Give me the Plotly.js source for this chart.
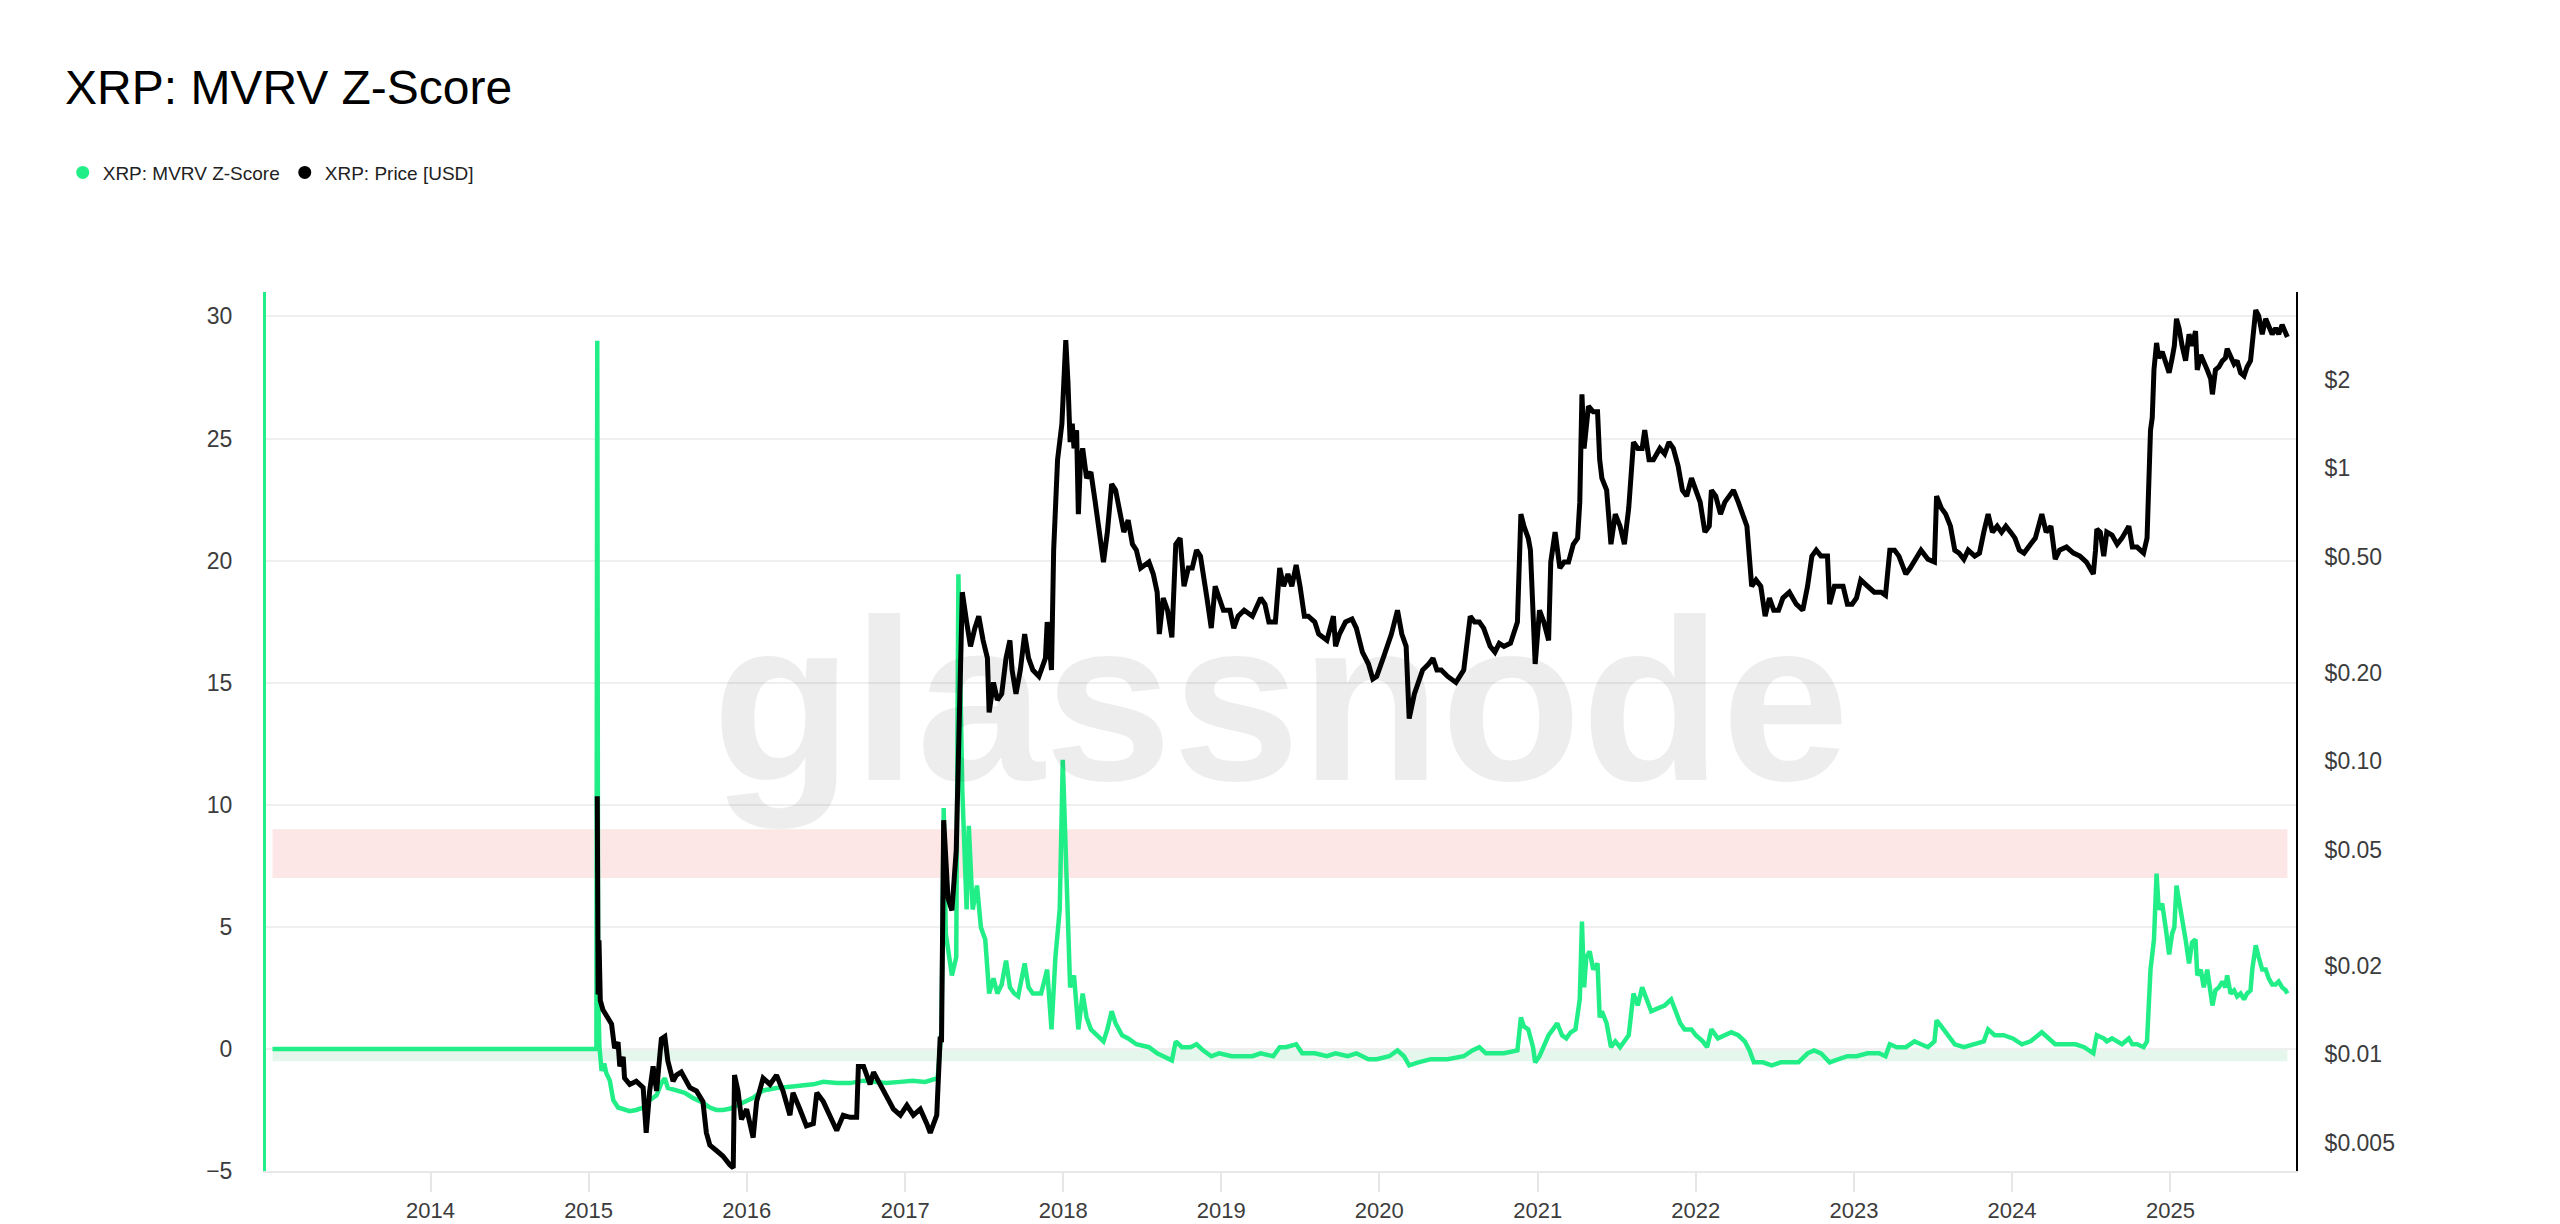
<!DOCTYPE html>
<html>
<head>
<meta charset="utf-8">
<script src="https://cdn.plot.ly/plotly-3.0.1.min.js"></script>
<style>
  html, body { margin: 0; padding: 0; background: #ffffff; }
  #chart { width: 2560px; height: 1224px; }
</style>
</head>
<body>
<div id="chart"></div>
<script>
// ---------- DATA ----------
// Dates are stored as decimal years.
const zYear = [
  2013.000, 2015.051, 2015.057, 2015.062, 2015.070, 2015.083, 2015.100, 2015.114, 2015.135, 2015.157,
  2015.188, 2015.230, 2015.262, 2015.304, 2015.346, 2015.389, 2015.431, 2015.462, 2015.483, 2015.504,
  2015.557, 2015.610, 2015.660, 2015.726, 2015.768, 2015.810, 2015.852, 2015.894, 2015.947, 2016.000,
  2016.042, 2016.105, 2016.190, 2016.274, 2016.337, 2016.422, 2016.485, 2016.569, 2016.654, 2016.738,
  2016.801, 2016.885, 2016.970, 2017.049, 2017.127, 2017.206, 2017.232, 2017.245, 2017.258, 2017.272,
  2017.298, 2017.324, 2017.337, 2017.350, 2017.363, 2017.390, 2017.403, 2017.429, 2017.455, 2017.481,
  2017.508, 2017.534, 2017.560, 2017.586, 2017.613, 2017.639, 2017.665, 2017.691, 2017.717, 2017.757,
  2017.783, 2017.809, 2017.862, 2017.901, 2017.927, 2017.953, 2017.980, 2017.998, 2018.014, 2018.032,
  2018.045, 2018.071, 2018.098, 2018.124, 2018.150, 2018.176, 2018.216, 2018.255, 2018.281, 2018.308,
  2018.334, 2018.373, 2018.412, 2018.465, 2018.544, 2018.596, 2018.635, 2018.688, 2018.714, 2018.753,
  2018.806, 2018.845, 2018.885, 2018.937, 2018.989, 2019.068, 2019.199, 2019.252, 2019.330, 2019.370,
  2019.409, 2019.475, 2019.514, 2019.593, 2019.671, 2019.724, 2019.802, 2019.855, 2019.934, 2019.986,
  2020.065, 2020.117, 2020.156, 2020.191, 2020.248, 2020.327, 2020.432, 2020.533, 2020.589, 2020.632,
  2020.674, 2020.730, 2020.787, 2020.872, 2020.894, 2020.914, 2020.942, 2020.970, 2020.985, 2021.013,
  2021.041, 2021.069, 2021.098, 2021.126, 2021.154, 2021.182, 2021.210, 2021.239, 2021.267, 2021.281,
  2021.295, 2021.309, 2021.329, 2021.352, 2021.380, 2021.394, 2021.408, 2021.436, 2021.465, 2021.493,
  2021.521, 2021.549, 2021.578, 2021.606, 2021.634, 2021.662, 2021.691, 2021.719, 2021.761, 2021.804,
  2021.846, 2021.874, 2021.902, 2021.931, 2021.973, 2022.001, 2022.044, 2022.072, 2022.100, 2022.142,
  2022.185, 2022.227, 2022.270, 2022.312, 2022.340, 2022.368, 2022.425, 2022.481, 2022.538, 2022.594,
  2022.651, 2022.707, 2022.750, 2022.792, 2022.849, 2022.905, 2022.961, 2023.018, 2023.089, 2023.159,
  2023.202, 2023.230, 2023.272, 2023.329, 2023.385, 2023.427, 2023.470, 2023.512, 2023.526, 2023.555,
  2023.597, 2023.639, 2023.696, 2023.752, 2023.823, 2023.851, 2023.893, 2023.950, 2024.006, 2024.063,
  2024.119, 2024.190, 2024.232, 2024.275, 2024.345, 2024.402, 2024.458, 2024.515, 2024.528, 2024.538,
  2024.580, 2024.601, 2024.633, 2024.665, 2024.696, 2024.739, 2024.760, 2024.791, 2024.833, 2024.854,
  2024.865, 2024.876, 2024.897, 2024.914, 2024.928, 2024.949, 2024.970, 2024.992, 2025.013, 2025.027,
  2025.040, 2025.055, 2025.076, 2025.097, 2025.118, 2025.139, 2025.160, 2025.171, 2025.192, 2025.213,
  2025.234, 2025.255, 2025.266, 2025.287, 2025.308, 2025.329, 2025.350, 2025.360, 2025.382, 2025.403,
  2025.424, 2025.445, 2025.466, 2025.487, 2025.508, 2025.519, 2025.540, 2025.561, 2025.582, 2025.603,
  2025.624, 2025.645, 2025.666, 2025.687, 2025.708, 2025.729, 2025.740
];
const zValue = [
  0, 0, 29.0, 2.3, 0.1, -0.9, -0.6, -1.0, -1.3, -2.1,
  -2.4, -2.5, -2.55, -2.5, -2.4, -2.1, -1.9, -1.4, -1.2, -1.6,
  -1.7, -1.8, -2.0, -2.2, -2.4, -2.5, -2.5, -2.45, -2.3, -2.1,
  -2.0, -1.7, -1.6, -1.55, -1.5, -1.45, -1.35, -1.4, -1.4, -1.3,
  -1.35, -1.4, -1.35, -1.3, -1.35, -1.2, 0.80, 9.87, 4.7, 3.99,
  3.01, 3.75, 19.44, 15.5, 10.61, 5.71, 9.14, 5.71, 6.69, 4.97,
  4.48, 2.27, 2.89, 2.27, 2.64, 3.62, 2.52, 2.27, 2.15, 3.50,
  2.52, 2.27, 2.27, 3.25, 0.80, 3.75, 5.71, 11.84, 8.16, 5.71,
  2.52, 3.01, 0.80, 2.27, 1.29, 0.80, 0.56, 0.31, 0.80, 1.54,
  1.05, 0.56, 0.43, 0.19, 0.07, -0.18, -0.30, -0.47, 0.31, 0.07,
  0.07, 0.19, -0.06, -0.30, -0.18, -0.30, -0.30, -0.18, -0.30, 0.07,
  0.07, 0.19, -0.18, -0.18, -0.30, -0.18, -0.30, -0.18, -0.42, -0.42,
  -0.30, -0.06, -0.30, -0.67, -0.55, -0.42, -0.42, -0.30, -0.06, 0.07,
  -0.18, -0.18, -0.18, -0.06, 1.29, 0.92, 0.80, 0.07, -0.55, -0.30,
  0.07, 0.56, 0.80, 1.05, 0.56, 0.43, 0.68, 0.80, 2.03, 5.22,
  2.52, 3.75, 3.99, 3.25, 3.50, 1.29, 1.54, 1.05, 0.07, 0.31,
  0.07, 0.31, 0.56, 2.27, 1.78, 2.52, 2.03, 1.54, 1.66, 1.78,
  2.03, 1.54, 1.05, 0.80, 0.80, 0.56, 0.31, 0.07, 0.80, 0.43,
  0.56, 0.68, 0.56, 0.31, -0.06, -0.55, -0.55, -0.67, -0.55, -0.55,
  -0.55, -0.18, -0.06, -0.18, -0.55, -0.42, -0.30, -0.30, -0.18, -0.18,
  -0.30, 0.19, 0.07, 0.07, 0.31, 0.19, 0.07, 0.31, 1.17, 0.92,
  0.56, 0.19, 0.07, 0.19, 0.31, 0.80, 0.56, 0.56, 0.43, 0.19,
  0.31, 0.68, 0.43, 0.19, 0.19, 0.19, 0.07, -0.18, 0.31, 0.56,
  0.43, 0.31, 0.43, 0.31, 0.19, 0.43, 0.19, 0.19, 0.07, 0.31,
  2.03, 3.25, 4.48, 7.18, 5.71, 5.95, 4.97, 3.87, 4.73, 4.97,
  6.69, 6.07, 5.46, 4.48, 3.50, 4.36, 4.48, 3.01, 3.25, 2.52,
  3.25, 2.27, 1.78, 2.40, 2.52, 2.76, 2.52, 3.01, 2.27, 2.40,
  2.15, 2.27, 2.03, 2.27, 2.40, 3.25, 4.24, 3.75, 3.25, 3.25,
  2.89, 2.64, 2.64, 2.76, 2.52, 2.40, 2.27
];

const pYear = [
  2015.057, 2015.062, 2015.068, 2015.075, 2015.093, 2015.146, 2015.167, 2015.188, 2015.199, 2015.220,
  2015.230, 2015.262, 2015.304, 2015.346, 2015.367, 2015.389, 2015.410, 2015.431, 2015.462, 2015.483,
  2015.504, 2015.536, 2015.557, 2015.589, 2015.610, 2015.642, 2015.684, 2015.726, 2015.747, 2015.768,
  2015.810, 2015.852, 2015.894, 2015.916, 2015.926, 2015.947, 2015.968, 2016.000, 2016.042, 2016.063,
  2016.105, 2016.148, 2016.190, 2016.232, 2016.274, 2016.295, 2016.337, 2016.379, 2016.422, 2016.443,
  2016.485, 2016.527, 2016.569, 2016.611, 2016.654, 2016.696, 2016.706, 2016.738, 2016.780, 2016.801,
  2016.843, 2016.885, 2016.928, 2016.970, 2017.012, 2017.054, 2017.096, 2017.138, 2017.160, 2017.202,
  2017.223, 2017.232, 2017.245, 2017.272, 2017.298, 2017.324, 2017.350, 2017.363, 2017.390, 2017.416,
  2017.442, 2017.468, 2017.495, 2017.521, 2017.534, 2017.560, 2017.586, 2017.613, 2017.639, 2017.665,
  2017.678, 2017.704, 2017.731, 2017.757, 2017.783, 2017.809, 2017.849, 2017.888, 2017.901, 2017.927,
  2017.940, 2017.953, 2017.967, 2017.993, 2018.006, 2018.019, 2018.032, 2018.045, 2018.058, 2018.071,
  2018.085, 2018.098, 2018.111, 2018.124, 2018.150, 2018.176, 2018.203, 2018.229, 2018.255, 2018.281,
  2018.308, 2018.334, 2018.360, 2018.386, 2018.412, 2018.439, 2018.465, 2018.491, 2018.544, 2018.570,
  2018.596, 2018.609, 2018.635, 2018.662, 2018.688, 2018.714, 2018.740, 2018.766, 2018.793, 2018.819,
  2018.845, 2018.871, 2018.911, 2018.937, 2018.963, 2018.989, 2019.016, 2019.055, 2019.081, 2019.107,
  2019.147, 2019.199, 2019.252, 2019.278, 2019.304, 2019.343, 2019.370, 2019.396, 2019.422, 2019.448,
  2019.475, 2019.501, 2019.527, 2019.553, 2019.593, 2019.619, 2019.671, 2019.711, 2019.724, 2019.750,
  2019.789, 2019.829, 2019.855, 2019.894, 2019.934, 2019.960, 2019.986, 2020.025, 2020.052, 2020.078,
  2020.117, 2020.143, 2020.170, 2020.191, 2020.222, 2020.248, 2020.274, 2020.314, 2020.340, 2020.366,
  2020.392, 2020.432, 2020.484, 2020.533, 2020.575, 2020.603, 2020.632, 2020.660, 2020.702, 2020.730,
  2020.759, 2020.787, 2020.829, 2020.872, 2020.894, 2020.914, 2020.942, 2020.956, 2020.970, 2020.985,
  2021.013, 2021.041, 2021.069, 2021.083, 2021.112, 2021.140, 2021.168, 2021.196, 2021.225, 2021.253,
  2021.267, 2021.281, 2021.295, 2021.309, 2021.323, 2021.352, 2021.380, 2021.394, 2021.408, 2021.436,
  2021.465, 2021.493, 2021.521, 2021.549, 2021.578, 2021.606, 2021.634, 2021.662, 2021.677, 2021.705,
  2021.733, 2021.775, 2021.804, 2021.832, 2021.860, 2021.888, 2021.917, 2021.945, 2021.973, 2022.001,
  2022.030, 2022.058, 2022.086, 2022.100, 2022.128, 2022.157, 2022.185, 2022.213, 2022.241, 2022.270,
  2022.298, 2022.326, 2022.354, 2022.383, 2022.411, 2022.439, 2022.467, 2022.495, 2022.524, 2022.552,
  2022.594, 2022.637, 2022.679, 2022.707, 2022.736, 2022.764, 2022.792, 2022.834, 2022.849, 2022.877,
  2022.905, 2022.933, 2022.961, 2022.990, 2023.018, 2023.046, 2023.089, 2023.131, 2023.173, 2023.202,
  2023.230, 2023.258, 2023.286, 2023.329, 2023.357, 2023.399, 2023.427, 2023.470, 2023.512, 2023.526,
  2023.555, 2023.583, 2023.611, 2023.639, 2023.667, 2023.696, 2023.724, 2023.766, 2023.795, 2023.823,
  2023.851, 2023.879, 2023.908, 2023.936, 2023.964, 2023.992, 2024.020, 2024.049, 2024.077, 2024.119,
  2024.148, 2024.190, 2024.218, 2024.246, 2024.275, 2024.303, 2024.345, 2024.388, 2024.430, 2024.472,
  2024.515, 2024.528, 2024.538, 2024.559, 2024.580, 2024.601, 2024.633, 2024.665, 2024.696, 2024.739,
  2024.760, 2024.791, 2024.833, 2024.854, 2024.865, 2024.876, 2024.886, 2024.897, 2024.914, 2024.928,
  2024.949, 2024.970, 2024.992, 2025.013, 2025.027, 2025.040, 2025.055, 2025.076, 2025.097, 2025.118,
  2025.139, 2025.160, 2025.171, 2025.192, 2025.213, 2025.234, 2025.255, 2025.266, 2025.287, 2025.308,
  2025.329, 2025.350, 2025.360, 2025.382, 2025.403, 2025.424, 2025.445, 2025.466, 2025.487, 2025.508,
  2025.519, 2025.540, 2025.561, 2025.582, 2025.603, 2025.624, 2025.645, 2025.666, 2025.687, 2025.708,
  2025.729, 2025.740
];
const pValue = [
  0.076, 0.0160, 0.0245, 0.0153, 0.0142, 0.0127, 0.0105, 0.0110, 0.0091, 0.0098,
  0.0083, 0.0079, 0.0081, 0.0077, 0.0054, 0.0075, 0.0091, 0.0075, 0.0113, 0.0115,
  0.0095, 0.0081, 0.0085, 0.0087, 0.0083, 0.0077, 0.0075, 0.0069, 0.0054, 0.0049,
  0.0047, 0.0045, 0.0042, 0.0041, 0.0085, 0.0075, 0.0060, 0.0065, 0.0052, 0.0069,
  0.0083, 0.0079, 0.0085, 0.0075, 0.0062, 0.0074, 0.0065, 0.0057, 0.0058, 0.0074,
  0.0069, 0.0062, 0.0055, 0.0062, 0.0061, 0.0061, 0.0091, 0.0091, 0.0079, 0.0087,
  0.0079, 0.0072, 0.0065, 0.0062, 0.0067, 0.0062, 0.0065, 0.0058, 0.0054, 0.0062,
  0.0115, 0.0110, 0.0630, 0.0341, 0.0310, 0.0497, 0.205, 0.378, 0.299, 0.247,
  0.285, 0.313, 0.259, 0.225, 0.147, 0.186, 0.162, 0.170, 0.225, 0.259,
  0.205, 0.170, 0.205, 0.272, 0.225, 0.205, 0.195, 0.225, 0.299, 0.205,
  0.526, 0.767, 1.07, 1.42, 2.38, 2.74, 1.97, 1.23, 1.42, 1.17,
  1.35, 0.698, 1.07, 1.17, 0.927, 0.972, 0.767, 0.606, 0.479, 0.606,
  0.884, 0.843, 0.698, 0.606, 0.666, 0.551, 0.526, 0.457, 0.479, 0.436,
  0.378, 0.272, 0.361, 0.328, 0.265, 0.551, 0.578, 0.396, 0.457, 0.457,
  0.526, 0.502, 0.361, 0.285, 0.396, 0.361, 0.328, 0.328, 0.285, 0.313,
  0.328, 0.313, 0.361, 0.344, 0.299, 0.299, 0.457, 0.396, 0.436, 0.396,
  0.468, 0.396, 0.313, 0.313, 0.299, 0.272, 0.259, 0.313, 0.247, 0.272,
  0.299, 0.306, 0.285, 0.236, 0.215, 0.191, 0.195, 0.225, 0.247, 0.272,
  0.328, 0.272, 0.247, 0.140, 0.170, 0.186, 0.205, 0.215, 0.225, 0.205,
  0.205, 0.195, 0.186, 0.205, 0.313, 0.299, 0.299, 0.285, 0.247, 0.236,
  0.253, 0.247, 0.253, 0.299, 0.698, 0.635, 0.578, 0.526, 0.328, 0.215,
  0.328, 0.299, 0.259, 0.479, 0.606, 0.457, 0.479, 0.479, 0.551, 0.578,
  0.767, 1.79, 1.17, 1.35, 1.63, 1.56, 1.56, 1.07, 0.927, 0.843,
  0.551, 0.698, 0.635, 0.551, 0.732, 1.23, 1.17, 1.17, 1.35, 1.07,
  1.07, 1.17, 1.12, 1.23, 1.17, 1.02, 0.843, 0.804, 0.927, 0.843,
  0.767, 0.606, 0.635, 0.843, 0.804, 0.698, 0.767, 0.804, 0.843, 0.767,
  0.698, 0.635, 0.396, 0.416, 0.396, 0.313, 0.361, 0.328, 0.328, 0.361,
  0.378, 0.344, 0.328, 0.396, 0.502, 0.526, 0.502, 0.502, 0.344, 0.396,
  0.396, 0.396, 0.344, 0.344, 0.361, 0.416, 0.396, 0.378, 0.378, 0.369,
  0.526, 0.526, 0.502, 0.436, 0.457, 0.502, 0.526, 0.490, 0.479, 0.804,
  0.732, 0.698, 0.635, 0.526, 0.514, 0.490, 0.526, 0.502, 0.514, 0.606,
  0.698, 0.606, 0.635, 0.606, 0.635, 0.606, 0.578, 0.526, 0.514, 0.551,
  0.578, 0.698, 0.606, 0.635, 0.490, 0.526, 0.539, 0.514, 0.502, 0.479,
  0.436, 0.526, 0.621, 0.606, 0.502, 0.606, 0.592, 0.551, 0.578, 0.635,
  0.539, 0.539, 0.514, 0.578, 0.843, 1.35, 1.49, 2.17, 2.68, 2.38,
  2.50, 2.33, 2.12, 2.38, 2.62, 3.24, 3.01, 2.62, 2.33, 2.87,
  2.62, 2.94, 2.17, 2.44, 2.33, 2.17, 2.02, 1.79, 2.17, 2.22,
  2.33, 2.38, 2.56, 2.38, 2.27, 2.33, 2.12, 2.07, 2.22, 2.33,
  2.74, 3.47, 3.31, 2.87, 3.24, 3.09, 2.87, 3.01, 2.87, 3.09,
  2.87, 2.81
];

// Axis ticks
const xTickYears = [2014, 2015, 2016, 2017, 2018, 2019, 2020, 2021, 2022, 2023, 2024, 2025];
const zTicks = [-5, 0, 5, 10, 15, 20, 25, 30];
const priceTicks = [0.005, 0.01, 0.02, 0.05, 0.1, 0.2, 0.5, 1, 2];
const priceTickText = ['$0.005', '$0.01', '$0.02', '$0.05', '$0.10', '$0.20', '$0.50', '$1', '$2'];

// Reference bands on the Z-score axis
const redBand = [7, 9];
const greenBand = [-0.5, 0];

// ---------- helpers ----------
function yearToDate(y) {
  const yr = Math.floor(y);
  const start = Date.UTC(yr, 0, 1);
  const end = Date.UTC(yr + 1, 0, 1);
  return new Date(start + (y - yr) * (end - start)).toISOString().slice(0, 10);
}

const GREEN = '#22ee88';
const FONT = '"Liberation Sans", Arial, Helvetica, sans-serif';

const zDates = zYear.map(yearToDate);
const pDates = pYear.map(yearToDate);

const traces = [
  {
    x: zDates, y: zValue, type: 'scatter', mode: 'lines',
    line: { color: GREEN, width: 4.5 }, yaxis: 'y', showlegend: false, hoverinfo: 'skip'
  },
  {
    x: pDates, y: pValue, type: 'scatter', mode: 'lines',
    line: { color: '#000000', width: 5 }, yaxis: 'y2', showlegend: false, hoverinfo: 'skip'
  },
  // legend entries (dots)
  {
    x: [null], y: [null], type: 'scatter', mode: 'markers', name: 'XRP: MVRV Z-Score',
    marker: { color: GREEN, size: 13 }, yaxis: 'y'
  },
  {
    x: [null], y: [null], type: 'scatter', mode: 'markers', name: 'XRP: Price [USD]',
    marker: { color: '#000000', size: 13 }, yaxis: 'y2'
  }
];

const bandStart = zDates[0];
const bandEnd = zDates[zDates.length - 1];

const layout = {
  width: 2560, height: 1224,
  paper_bgcolor: '#ffffff', plot_bgcolor: '#ffffff',
  margin: { l: 266, r: 264, t: 292, b: 53, pad: 0 },
  font: { family: FONT, color: '#3c3c3c', size: 23 },
  title: {
    text: 'XRP: MVRV Z-Score',
    font: { family: FONT, size: 48, color: '#000000' },
    xref: 'container', yref: 'container',
    x: 0.0254, xanchor: 'left', y: 0.929, yanchor: 'middle'
  },
  showlegend: true,
  legend: {
    orientation: 'h', xref: 'container', yref: 'container',
    x: 0.0245, xanchor: 'left', y: 0.859, yanchor: 'middle',
    font: { family: FONT, size: 19, color: '#222222' },
    itemwidth: 30, bgcolor: 'rgba(0,0,0,0)'
  },
  xaxis: {
    type: 'date',
    range: ['2012-12-17', '2025-10-18'],
    tickvals: xTickYears.map(y => y + '-01-01'),
    ticktext: xTickYears.map(String),
    showgrid: false, zeroline: false,
    showline: true, linecolor: '#e8e8e8', linewidth: 2,
    ticks: 'outside', ticklen: 19, tickwidth: 2, tickcolor: '#e6e6e6',
    tickfont: { family: FONT, size: 22, color: '#3c3c3c' },
    ticklabelstandoff: 0
  },
  yaxis: {
    range: [-5, 31],
    tickvals: zTicks,
    showgrid: true, gridcolor: '#efefef', gridwidth: 2,
    zeroline: false,
    showline: true, linecolor: GREEN, linewidth: 3,
    ticks: '', tickfont: { family: FONT, size: 23, color: '#3c3c3c' },
    ticklabelstandoff: 26
  },
  yaxis2: {
    type: 'log', overlaying: 'y', side: 'right',
    range: [Math.log10(0.004), Math.log10(4)],
    tickvals: priceTicks, ticktext: priceTickText,
    showgrid: false, zeroline: false,
    showline: true, linecolor: '#000000', linewidth: 2,
    ticks: '', tickfont: { family: FONT, size: 23, color: '#3c3c3c' },
    ticklabelstandoff: 22
  },
  shapes: [
    {
      type: 'rect', xref: 'x', yref: 'y', layer: 'below',
      x0: bandStart, x1: bandEnd, y0: redBand[0], y1: redBand[1],
      fillcolor: 'rgba(240, 80, 80, 0.14)', line: { width: 0 }
    },
    {
      type: 'rect', xref: 'x', yref: 'y', layer: 'below',
      x0: bandStart, x1: bandEnd, y0: greenBand[0], y1: greenBand[1],
      fillcolor: 'rgba(40, 190, 110, 0.12)', line: { width: 0 }
    }
  ],
  annotations: [
    {
      text: '<b>glassnode</b>', xref: 'paper', yref: 'paper', x: 0.5, y: 0.535,
      xanchor: 'center', yanchor: 'middle', showarrow: false,
      font: { family: FONT, size: 230, color: 'rgba(0,0,0,0.07)' }
    }
  ]
};

Plotly.newPlot('chart', traces, layout, { displayModeBar: false, staticPlot: true });
</script>
</body>
</html>
